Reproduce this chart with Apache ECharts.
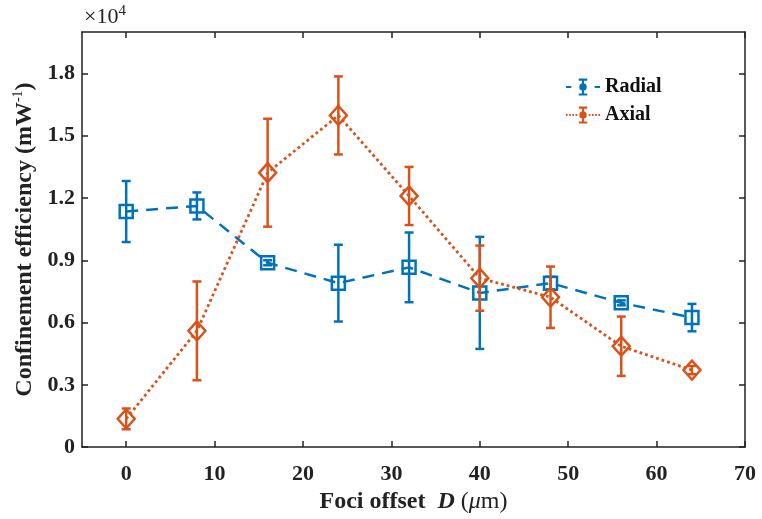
<!DOCTYPE html>
<html>
<head>
<meta charset="utf-8">
<script src="https://cdn.jsdelivr.net/npm/echarts@6/dist/echarts.min.js"></script>
<style>html,body{margin:0;padding:0;background:#fff}#c{width:762px;height:519px}</style>
</head>
<body>
<div id="c"></div>
<script>
var offsets = [0, 8, 16, 24, 32, 40, 48, 56, 64];
var radialVals = [1.135, 1.162, 0.888, 0.790, 0.866, 0.743, 0.790, 0.695, 0.624];
var radialErr  = [0.147, 0.065, 0.012, 0.185, 0.168, 0.270, 0.030, 0.012, 0.066];
var axialVals  = [0.136, 0.560, 1.322, 1.598, 1.210, 0.814, 0.722, 0.486, 0.371];
var axialErr   = [0.050, 0.238, 0.260, 0.188, 0.140, 0.157, 0.148, 0.143, 0.020];
var xTicks = [0, 10, 20, 30, 40, 50, 60, 70];
var yTicks = [0, 0.3, 0.6, 0.9, 1.2, 1.5, 1.8];

var BLUE = '#0072BD', ORANGE = '#D95319';
var FONT = '"Liberation Serif", "Times New Roman", serif';

function pts(xs, ys) { return xs.map(function (x, i) { return [x, ys[i]]; }); }
function errData(xs, ys, es) { return xs.map(function (x, i) { return [x, ys[i] - es[i], ys[i] + es[i]]; }); }

function errRender(color) {
  return function (params, api) {
    var x = api.value(0);
    var lo = api.coord([x, api.value(1)]);
    var hi = api.coord([x, api.value(2)]);
    var cw = 4.5;
    var st = { stroke: color, lineWidth: 2.5, fill: null };
    return {
      type: 'group',
      children: [
        { type: 'line', shape: { x1: lo[0], y1: lo[1], x2: hi[0], y2: hi[1] }, style: st },
        { type: 'line', shape: { x1: lo[0] - cw, y1: lo[1], x2: lo[0] + cw, y2: lo[1] }, style: st },
        { type: 'line', shape: { x1: hi[0] - cw, y1: hi[1], x2: hi[0] + cw, y2: hi[1] }, style: st }
      ]
    };
  };
}

// legend icons: error-bar glyph with filled dot, flanked by the line style
var ibeam = 'M12,0h8v2h-3v12h3v2h-8v-2h3v-12h-3z M12.5,8a3.5,3.5 0 1,1 7,0a3.5,3.5 0 1,1 -7,0z';
var radialIcon = 'path://M0,7h5v2h-5z M27,7h5v2h-5z ' + ibeam;
var axialIcon = 'path://M0,7h1.5v2h-1.5z M3,7h1.5v2h-1.5z M6,7h1.5v2h-1.5z M9,7h1.5v2h-1.5z M21.5,7h1.5v2h-1.5z M24.5,7h1.5v2h-1.5z M27.5,7h1.5v2h-1.5z M30.5,7h1.5v2h-1.5z ' + ibeam;

var axisLineStyle = { color: '#222', width: 1.5 };
var labelFmtY = function (v) { return v === 0 ? '0' : v.toFixed(1); };

var chart = echarts.init(document.getElementById('c'), null, { renderer: 'canvas' });
chart.setOption({
  backgroundColor: '#fff',
  animation: false,
  grid: { left: 82, right: 17, top: 32, bottom: 68, containLabel: false },
  xAxis: [{
    type: 'value', min: -5, max: 70, position: 'bottom',
    name: '{b|Foci offset  }{i|D}{n| (}{m|μ}{n|m)}',
    nameLocation: 'middle', nameGap: 38,
    nameTextStyle: {
      rich: {
        b: { fontFamily: FONT, fontWeight: 'bold', fontSize: 24, color: '#222' },
        i: { fontFamily: FONT, fontWeight: 'bold', fontStyle: 'italic', fontSize: 24, color: '#222' },
        n: { fontFamily: FONT, fontSize: 24, color: '#222' },
        m: { fontFamily: FONT, fontStyle: 'italic', fontSize: 24, color: '#222' }
      }
    },
    axisLine: { show: true, onZero: false, lineStyle: axisLineStyle },
    axisTick: { show: true, inside: true, length: 6, customValues: xTicks, lineStyle: axisLineStyle },
    axisLabel: { customValues: xTicks, fontFamily: FONT, fontWeight: 'bold', fontSize: 22, color: '#222', margin: 16 },
    splitLine: { show: false }
  }, {
    type: 'value', min: -5, max: 70, position: 'top',
    axisLine: { show: true, onZero: false, lineStyle: axisLineStyle },
    axisTick: { show: true, inside: true, length: 6, customValues: xTicks, lineStyle: axisLineStyle },
    axisLabel: { show: false },
    splitLine: { show: false }
  }],
  yAxis: [{
    type: 'value', min: 0, max: 2.0, position: 'left',
    name: '{b|Confinement efficiency (mW}{s|-1}{b|)}',
    nameLocation: 'middle', nameGap: 41, nameRotate: 90,
    nameTextStyle: {
      rich: {
        b: { fontFamily: FONT, fontWeight: 'bold', fontSize: 24, color: '#222' },
        s: { fontFamily: FONT, fontSize: 14, color: '#222', verticalAlign: 'top', padding: [0, 0, 13, 0] }
      }
    },
    axisLine: { show: true, onZero: false, lineStyle: axisLineStyle },
    axisTick: { show: true, inside: true, length: 6, customValues: yTicks, lineStyle: axisLineStyle },
    axisLabel: { customValues: yTicks, formatter: labelFmtY, fontFamily: FONT, fontWeight: 'bold', fontSize: 22, color: '#222', margin: 7 },
    splitLine: { show: false }
  }, {
    type: 'value', min: 0, max: 2.0, position: 'right',
    axisLine: { show: true, onZero: false, lineStyle: axisLineStyle },
    axisTick: { show: true, inside: true, length: 6, customValues: yTicks, lineStyle: axisLineStyle },
    axisLabel: { show: false },
    splitLine: { show: false }
  }],
  legend: {
    left: 561, top: 72, orient: 'vertical', itemGap: 8, itemWidth: 34, itemHeight: 17,
    textStyle: { fontFamily: FONT, fontWeight: 'bold', fontSize: 20, color: '#111' },
    data: [
      { name: 'Radial', icon: radialIcon, itemStyle: { color: BLUE, borderWidth: 0 } },
      { name: 'Axial', icon: axialIcon, itemStyle: { color: ORANGE, borderWidth: 0 } }
    ]
  },
  graphic: [{
    type: 'text', left: 84, top: 4,
    style: {
      text: '{a|×10}{s|4}',
      rich: {
        a: { fontFamily: FONT, fontSize: 22, fill: '#222' },
        s: { fontFamily: FONT, fontSize: 15, fill: '#222', verticalAlign: 'top', padding: [0, 0, 12, 0] }
      }
    }
  }],
  series: [{
    name: 'Radial', type: 'line', z: 2,
    data: pts(offsets, radialVals),
    symbol: 'rect', symbolSize: 13,
    itemStyle: { color: 'rgba(0,0,0,0)', borderColor: BLUE, borderWidth: 2.5 },
    lineStyle: { color: BLUE, width: 2.5, type: [12, 8] }
  }, {
    name: 'RadialErr', type: 'custom', z: 2,
    data: errData(offsets, radialVals, radialErr),
    renderItem: errRender(BLUE),
    encode: { x: 0, y: [1, 2] }
  }, {
    name: 'Axial', type: 'line', z: 3,
    data: pts(offsets, axialVals),
    symbol: 'diamond', symbolSize: [17, 19],
    itemStyle: { color: 'rgba(0,0,0,0)', borderColor: ORANGE, borderWidth: 2.5 },
    lineStyle: { color: ORANGE, width: 2.8, type: [2.8, 3] }
  }, {
    name: 'AxialErr', type: 'custom', z: 3,
    data: errData(offsets, axialVals, axialErr),
    renderItem: errRender(ORANGE),
    encode: { x: 0, y: [1, 2] }
  }]
});
</script>
</body>
</html>
